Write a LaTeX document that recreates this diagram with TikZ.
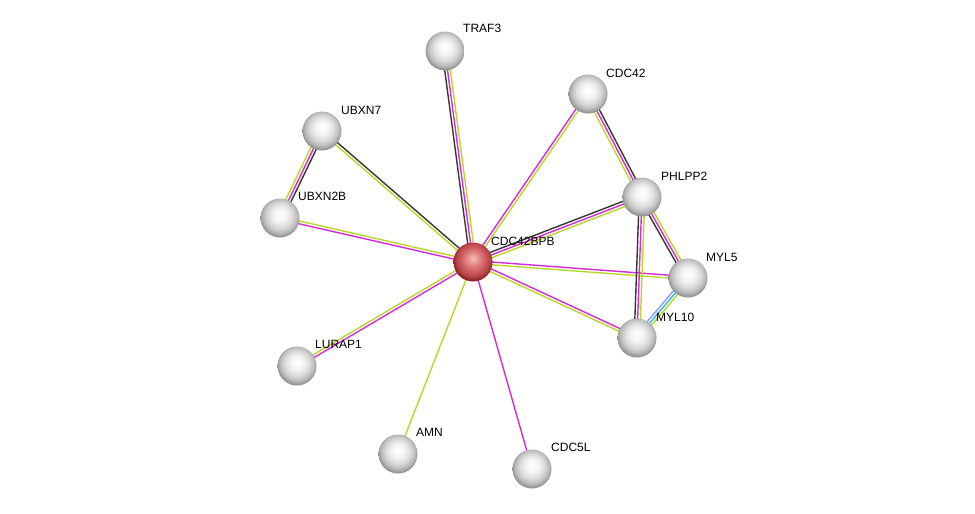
\documentclass[tikz,border=0pt]{standalone}
\usepackage{fontspec}
\setmainfont{Liberation Sans}
\usetikzlibrary{calc,backgrounds}
\definecolor{exper}{RGB}{214,42,214}
\definecolor{txtm}{RGB}{188,214,40}
\definecolor{coex}{RGB}{55,55,55}
\definecolor{dbase}{RGB}{40,190,230}
\definecolor{homol}{RGB}{150,150,250}
\pgfdeclareradialshading{grayball}{\pgfpoint{0bp}{5bp}}{%
  color(0bp)=(white); color(8bp)=(white!96!black); color(15bp)=(white!87!black);
  color(21bp)=(white!75!black); color(26bp)=(white!58!black); color(30bp)=(white!48!black);
  color(50bp)=(white!48!black)}
\pgfdeclareradialshading{redball}{\pgfpoint{0bp}{5bp}}{%
  color(0bp)=(rgb,255:red,245;green,190;blue,190); color(8bp)=(rgb,255:red,228;green,135;blue,135);
  color(15bp)=(rgb,255:red,208;green,96;blue,100); color(21bp)=(rgb,255:red,185;green,70;blue,74);
  color(26bp)=(rgb,255:red,140;green,35;blue,40); color(30bp)=(rgb,255:red,110;green,25;blue,30);
  color(50bp)=(rgb,255:red,110;green,25;blue,30)}
\newcommand\eline[4]{\draw[edgeln,#4] ($(#1)!#3!90:(#2)$) -- ($(#2)!#3!-90:(#1)$);}
\tikzset{
  protball/.style={circle, minimum size=39pt, inner sep=0pt, shading=#1},
  protball/.default=grayball,
  lbl/.style={anchor=base west, inner sep=0pt, font=\fontsize{12}{14}\selectfont},
  edgeln/.style={line width=1.4pt}
}
\begin{document}
\begin{tikzpicture}[x=1pt,y=-1pt]
\useasboundingbox (0,0) rectangle (975,514);
% nodes
\node[protball=redball] (C) at (473,262) {};
\node[protball] (TRAF3) at (445,51) {};
\node[protball] (CDC42) at (588,94) {};
\node[protball] (UBXN7) at (322,131) {};
\node[protball] (UBXN2B) at (280,218) {};
\node[protball] (PHLPP2) at (642,197) {};
\node[protball] (MYL5) at (688,278) {};
\node[protball] (MYL10) at (637,338) {};
\node[protball] (LURAP1) at (297,366) {};
\node[protball] (AMN) at (398,454) {};
\node[protball] (CDC5L) at (532,469) {};
% labels
\node[lbl] (tC) at (491,245) {CDC42BPB};
\node[lbl] (tTRAF3) at (463,32) {TRAF3};
\node[lbl] (tCDC42) at (606,77) {CDC42};
\node[lbl] (tUBXN7) at (341,114) {UBXN7};
\node[lbl] (tUBXN2B) at (298,200) {UBXN2B};
\node[lbl] (tPHLPP2) at (661,180) {PHLPP2};
\node[lbl] (tMYL5) at (706,261) {MYL5};
\node[lbl] (tMYL10) at (656,321) {MYL10};
\node[lbl] (tLURAP1) at (315,348) {LURAP1};
\node[lbl] (tAMN) at (416,436) {AMN};
\node[lbl] (tCDC5L) at (551,451) {CDC5L};
\begin{pgfonlayer}{background}
\fill[white] (0,0) rectangle (975,514);
% CDC42BPB edges
\eline{C}{TRAF3}{2.8pt}{coex}
\eline{C}{TRAF3}{0pt}{exper}
\eline{C}{TRAF3}{-2.8pt}{txtm}
\eline{C}{CDC42}{1.4pt}{exper}
\eline{C}{CDC42}{-1.4pt}{txtm}
\eline{C}{UBXN7}{-1.4pt}{coex}
\eline{C}{UBXN7}{1.4pt}{txtm}
\eline{C}{UBXN2B}{1.4pt}{exper}
\eline{C}{UBXN2B}{-1.4pt}{txtm}
\eline{C}{PHLPP2}{2.8pt}{coex}
\eline{C}{PHLPP2}{0pt}{exper}
\eline{C}{PHLPP2}{-2.8pt}{txtm}
\eline{C}{MYL5}{1.4pt}{exper}
\eline{C}{MYL5}{-1.4pt}{txtm}
\eline{C}{MYL10}{1.4pt}{exper}
\eline{C}{MYL10}{-1.4pt}{txtm}
\eline{C}{LURAP1}{1.4pt}{exper}
\eline{C}{LURAP1}{-1.4pt}{txtm}
\eline{C}{AMN}{0pt}{txtm}
\eline{C}{CDC5L}{0pt}{exper}
% other edges
\eline{UBXN7}{UBXN2B}{2.8pt}{coex}
\eline{UBXN7}{UBXN2B}{0pt}{exper}
\eline{UBXN7}{UBXN2B}{-2.8pt}{txtm}
\eline{CDC42}{PHLPP2}{2.8pt}{coex}
\eline{CDC42}{PHLPP2}{0pt}{exper}
\eline{CDC42}{PHLPP2}{-2.8pt}{txtm}
\eline{PHLPP2}{MYL5}{-2.8pt}{coex}
\eline{PHLPP2}{MYL5}{0pt}{exper}
\eline{PHLPP2}{MYL5}{2.8pt}{txtm}
\eline{PHLPP2}{MYL10}{-2.8pt}{coex}
\eline{PHLPP2}{MYL10}{0pt}{exper}
\eline{PHLPP2}{MYL10}{2.8pt}{txtm}
\eline{MYL5}{MYL10}{-2.8pt}{homol}
\eline{MYL5}{MYL10}{0pt}{dbase}
\eline{MYL5}{MYL10}{2.8pt}{txtm}
\end{pgfonlayer}
\end{tikzpicture}
\end{document}
